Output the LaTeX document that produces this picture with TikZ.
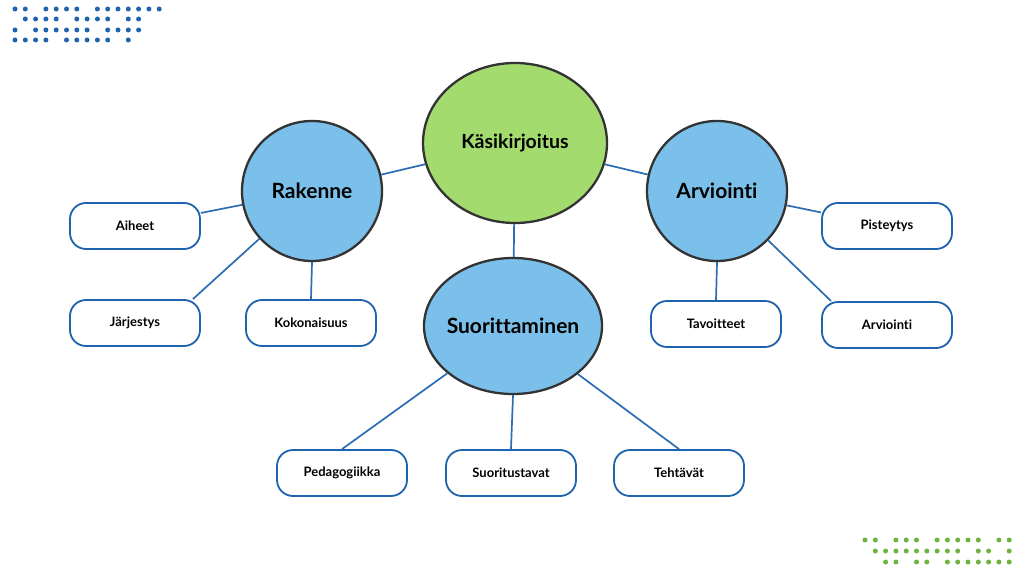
\documentclass[tikz,border=0pt]{standalone}
\usepackage{fontspec}
\setmainfont[Ligatures=NoCommon]{Lato}
\usetikzlibrary{shapes.geometric}
\definecolor{cblue}{HTML}{7BC0EA}
\definecolor{cgreen}{HTML}{A3DB6E}
\definecolor{lblue}{HTML}{2B6CB3}
\definecolor{dblue}{HTML}{1E63AE}
\definecolor{dgreen}{HTML}{6DB33F}
\definecolor{ring}{HTML}{333333}
\begin{document}
\begin{tikzpicture}[x=1pt,y=-1pt,
  big/.style={ellipse,draw=ring,line width=2.3pt,inner sep=0pt},
  bigtext/.style={font=\bfseries\fontsize{21}{24}\selectfont},
  pill/.style={draw=dblue,line width=1.8pt,rounded corners=16pt,minimum width=130pt,minimum height=46pt,fill=white,font=\bfseries\fontsize{13}{15}\selectfont},
  link/.style={draw=lblue,line width=1.7pt}]
\useasboundingbox (0,0) rectangle (1024,569);
% dots
\foreach \r/\ks in {9/{0,1,3,4,5,6,8,9,10,11,12,13,14},19/{1,2,3,4,6,7,8,9,11,12},30/{0,2,3,4,5,6,7,9,10,11,12},40/{0,1,2,3,5,6,7,8,9,11}}{
  \foreach \k in \ks {\fill[dblue] (15+10.3*\k,\r) circle (2.5);}}
\foreach \r/\ks in {540/{0,1,3,4,5,7,8,9,10,11,13,14},551/{1,2,3,4,5,6,7,8,9,11,12,14},562/{2,3,5,6,8,9,10,11,12,13,14}}{
  \foreach \k in \ks {\fill[dgreen] (865+10.3*\k,\r) circle (2.5);}}
\node[big,fill=cgreen,minimum width=184pt,minimum height=160pt,label={[bigtext,font=\bfseries\fontsize{19.5}{22}\selectfont]center:Käsikirjoitus}] (kas) at (515,143) {};
\node[big,circle,fill=cblue,minimum size=140pt,label={[bigtext]center:Rakenne}] (rak) at (312,191) {};
\node[big,circle,fill=cblue,minimum size=140pt,label={[bigtext]center:Arviointi}] (arv) at (717,191) {};
\node[big,fill=cblue,minimum width=178pt,minimum height=136pt,label={[bigtext]center:Suorittaminen}] (suo) at (513,326) {};
\node[pill] (aih) at (135,226) {Aiheet};
\node[pill] (jar) at (135,323) {Järjestys};
\node[pill] (kok) at (311,323) {Kokonaisuus};
\node[pill] (pis) at (887,226) {Pisteytys};
\node[pill] (tav) at (716,324) {Tavoitteet};
\node[pill] (arb) at (887,325) {Arviointi};
\node[pill] (ped) at (342,473) {Pedagogiikka};
\node[pill] (sut) at (511,473) {Suoritustavat};
\node[pill] (teh) at (679,473) {Tehtävät};
\path[link] (kas) -- (rak);
\path[link] (kas) -- (arv);
\path[link] (kas) -- (suo);
\path[link] (rak) -- (aih);
\path[link] (rak) -- ([xshift=-8pt]jar.north east);
\path[link] (rak.south) -- (kok.north);
\path[link] (arv) -- (pis);
\path[link] (arv.south) -- (tav.north);
\path[link] (arv) -- ([xshift=10pt]arb.north west);
\path[link] (suo) -- (ped.north);
\path[link] (suo.south) -- (sut.north);
\path[link] (suo) -- (teh.north);
\end{tikzpicture}
\end{document}
